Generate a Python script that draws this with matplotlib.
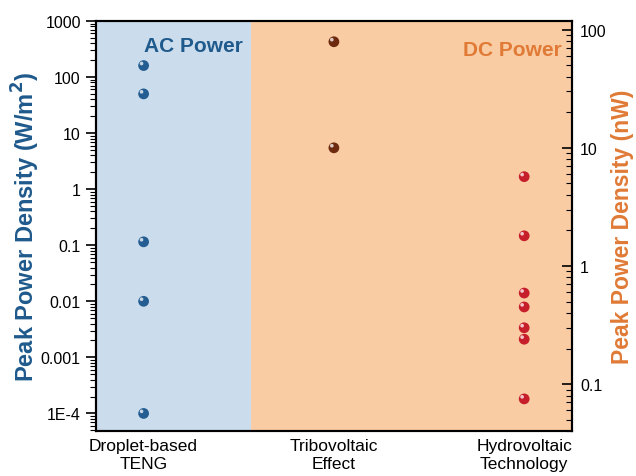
import matplotlib.pyplot as plt
import matplotlib.transforms as mtransforms
from matplotlib.ticker import LogLocator, FixedLocator, NullFormatter

plt.rcParams['font.family'] = ['Liberation Sans', 'DejaVu Sans']

categories = ['Droplet-based\nTENG', 'Tribovoltaic\nEffect', 'Hydrovoltaic\nTechnology']

# AC power, left axis (W/m^2)
teng_vals = [160, 50, 0.115, 0.01, 1e-4]
# DC power, right axis (nW)
tribo_vals = [79, 10]
hydro_vals = [5.7, 1.8, 0.59, 0.45, 0.30, 0.24, 0.075]

blue = '#1f5a8c'
orange = '#e07a36'

fig = plt.figure(figsize=(6.36, 4.77), dpi=100)
ax = fig.add_axes([0.151, 0.094, 0.748, 0.86])
ax2 = ax.twinx()

ax.set_xlim(0.75, 3.25)
ax.set_yscale('log')
ax.set_ylim(4.83e-5, 1000)
ax2.set_yscale('log')
ax2.set_ylim(0.04, 118.5)

# background regions
ax.axvspan(0.75, 1.563, color='#cbdcec', zorder=0, lw=0)
ax.axvspan(1.563, 3.25, color='#f9cca3', zorder=0, lw=0)


def spheres(axis, x, vals, color):
    axis.scatter([x] * len(vals), vals, s=60, color=color, zorder=3, edgecolors='none')
    hl = mtransforms.offset_copy(axis.transData, fig=fig, x=-1.5, y=1.5, units='points')
    axis.scatter([x] * len(vals), vals, s=7, color='white', alpha=0.75, zorder=4,
                 edgecolors='none', transform=hl)


spheres(ax, 1, teng_vals, '#245d92')
spheres(ax2, 2, tribo_vals, '#6e2a0f')
spheres(ax2, 3, hydro_vals, '#c61f2b')

ax.set_xticks([1, 2, 3])
ax.set_xticklabels(categories, fontsize=12.5)
ax.tick_params(axis='x', length=0, pad=5)

ax.yaxis.set_major_locator(FixedLocator([1e-4, 1e-3, 1e-2, 0.1, 1, 10, 100, 1000]))
ax.set_yticklabels(['1E-4', '0.001', '0.01', '0.1', '1', '10', '100', '1000'])
ax.yaxis.set_minor_locator(LogLocator(base=10, subs=range(2, 10), numticks=20))
ax.yaxis.set_minor_formatter(NullFormatter())
ax.tick_params(axis='y', which='major', direction='out', length=7, width=1.2, labelsize=11.5, pad=4)
ax.tick_params(axis='y', which='minor', direction='out', length=4, width=0.8)

ax2.yaxis.set_major_locator(FixedLocator([0.1, 1, 10, 100]))
ax2.set_yticklabels(['0.1', '1', '10', '100'])
ax2.yaxis.set_minor_locator(LogLocator(base=10, subs=range(2, 10), numticks=20))
ax2.yaxis.set_minor_formatter(NullFormatter())
ax2.tick_params(axis='y', which='major', direction='in', length=7, width=1.2, labelsize=11.5, pad=6)
ax2.tick_params(axis='y', which='minor', direction='in', length=4, width=0.8)

for a in (ax, ax2):
    for s in a.spines.values():
        s.set_linewidth(1.5)

ax.set_ylabel('Peak Power Density (W/m$\\mathbf{^2}$)', fontsize=17, fontweight='bold', color=blue, labelpad=-1)
ax2.set_ylabel('Peak Power Density (nW)', fontsize=16.5, fontweight='bold', color=orange, labelpad=3)

ax.text(1.0, 360, 'AC Power', fontsize=15, fontweight='bold', color=blue, va='center', ha='left')
ax.text(3.2, 310, 'DC Power', fontsize=15, fontweight='bold', color=orange, va='center', ha='right')

fig.savefig('out.png', dpi=100)
